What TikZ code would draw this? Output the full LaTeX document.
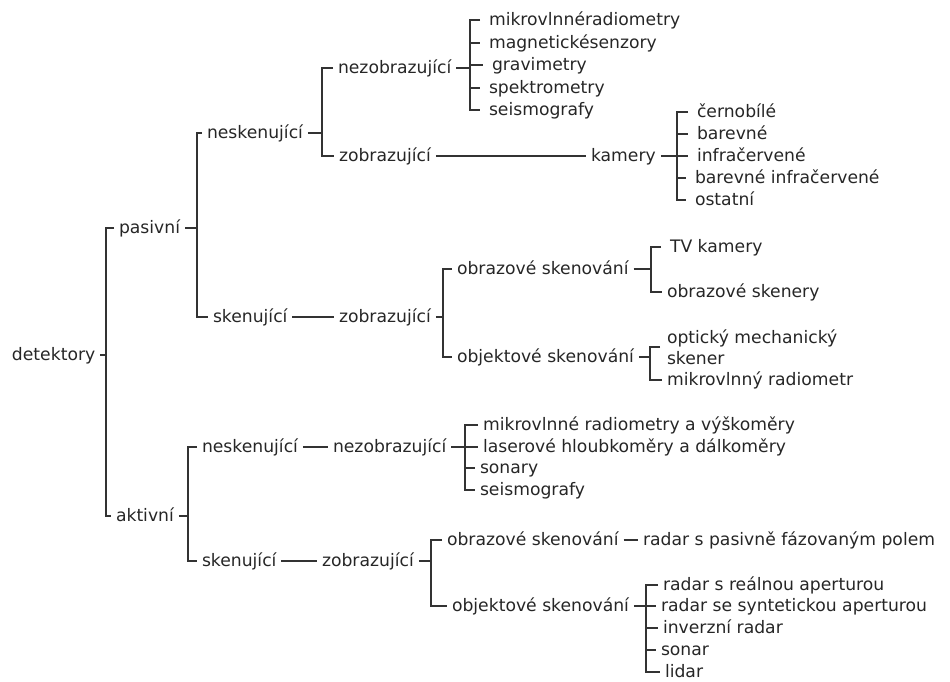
\documentclass[tikz,border=0pt]{standalone}
\usepackage{fontspec}
\setmainfont{DejaVu Sans}
\begin{document}
\begin{tikzpicture}[x=1pt,y=-1pt]
\tikzset{
  lbl/.style={anchor=west, inner xsep=0pt, inner ysep=0pt, outer xsep=5pt,
    text height=11pt, text depth=0pt, font=\fontsize{17.2}{21}\selectfont, text=black!85},
  itm/.style={lbl, outer xsep=9pt},
  lbltwo/.style={anchor=west, inner xsep=0pt, inner ysep=0pt, outer xsep=7pt,
    align=left, font=\fontsize{17.2}{20.5}\selectfont, text=black!85},
  conn/.style={draw=black!80, line width=1.3pt},
}
\useasboundingbox (0,0) rectangle (950,682);
% nodes
\node[lbl] (det) at (7,355) {detektory};
\node[lbl] (pas) at (114,228) {pasivní};
\node[lbl] (akt) at (111,516) {aktivní};
\node[lbl] (pn) at (202,133) {neskenující};
\node[lbl] (ps) at (208,317) {skenující};
\node[lbl] (pnn) at (333,68) {nezobrazující};
\node[lbl] (pnz) at (334,156) {zobrazující};
\node[itm] (i1) at (480,20) {mikrovlnnéradiometry};
\node[itm] (i2) at (480,43) {magnetickésenzory};
\node[itm] (i3) at (483,65) {gravimetry};
\node[itm] (i4) at (480,88) {spektrometry};
\node[itm] (i5) at (480,110) {seismografy};
\node[lbl] (kam) at (586,156) {kamery};
\node[itm] (k1) at (688,112) {černobílé};
\node[itm] (k2) at (688,134) {barevné};
\node[itm] (k3) at (688,156) {infračervené};
\node[itm] (k4) at (686,178) {barevné infračervené};
\node[itm] (k5) at (686,200) {ostatní};
\node[lbl] (psz) at (334,317) {zobrazující};
\node[lbl] (pso) at (452,269) {obrazové skenování};
\node[lbl] (psb) at (452,357) {objektové skenování};
\node[itm] (o1) at (661,247) {TV kamery};
\node[lbl] (o2) at (662,292) {obrazové skenery};
\node[lbltwo] (b1) at (660,347) {optický mechanický\\skener};
\node[lbl] (b3) at (662,380) {mikrovlnný radiometr};
\node[lbl] (an) at (197,447) {neskenující};
\node[lbl] (ann) at (328,447) {nezobrazující};
\node[lbl] (a1) at (478,425) {mikrovlnné radiometry a výškoměry};
\node[lbl] (a2) at (478,447) {laserové hloubkoměry a dálkoměry};
\node[lbl] (a3) at (475,468) {sonary};
\node[lbl] (a4) at (475,490) {seismografy};
\node[lbl] (as) at (197,561) {skenující};
\node[lbl] (asz) at (317,561) {zobrazující};
\node[lbl] (aso) at (442,540) {obrazové skenování};
\node[lbl] (aso1) at (638,540) {radar s pasivně fázovaným polem};
\node[lbl] (asb) at (447,606) {objektové skenování};
\node[lbl] (r1) at (658,585) {radar s reálnou aperturou};
\node[lbl] (r2) at (656,606) {radar se syntetickou aperturou};
\node[lbl] (r3) at (658,628) {inverzní radar};
\node[lbl] (r4) at (656,650) {sonar};
\node[lbl] (r5) at (660,672) {lidar};
% spines
\coordinate (s0) at (106,0);
\coordinate (s1) at (197,0);
\coordinate (s2) at (322,0);
\coordinate (s3) at (470,0);
\coordinate (s4) at (677,0);
\coordinate (s5) at (443,0);
\coordinate (s6) at (651,0);
\coordinate (s7) at (650,0);
\coordinate (s8) at (465,0);
\coordinate (s9) at (188,0);
\coordinate (s10) at (431,0);
\coordinate (s11) at (646,0);
% detektory
\draw[conn] (det.east) -- (det.east -| s0);
\draw[conn] (pas.west) -| (s0 |- akt.west) -- (akt.west);
% pasivni
\draw[conn] (pas.east) -- (pas.east -| s1);
\draw[conn] (pn.west) -| (s1 |- ps.west) -- (ps.west);
% pasivni neskenujici
\draw[conn] (pn.east) -- (pn.east -| s2);
\draw[conn] (pnn.west) -| (s2 |- pnz.west) -- (pnz.west);
% nezobrazujici items
\draw[conn] (pnn.east) -- (pnn.east -| s3);
\draw[conn] (i1.west) -| (s3 |- i5.west) -- (i5.west);
\draw[conn] (s3 |- i2.west) -- (i2.west);
\draw[conn] (s3 |- i3.west) -- (i3.west);
\draw[conn] (s3 |- i4.west) -- (i4.west);
% zobrazujici -- kamery
\draw[conn] (pnz.east) -- (kam.west);
\draw[conn] (kam.east) -- (kam.east -| s4);
\draw[conn] (k1.west) -| (s4 |- k5.west) -- (k5.west);
\draw[conn] (s4 |- k2.west) -- (k2.west);
\draw[conn] (s4 |- k3.west) -- (k3.west);
\draw[conn] (s4 |- k4.west) -- (k4.west);
% pasivni skenujici
\draw[conn] (ps.east) -- (psz.west);
\draw[conn] (psz.east) -- (psz.east -| s5);
\draw[conn] (pso.west) -| (s5 |- psb.west) -- (psb.west);
\draw[conn] (pso.east) -- (pso.east -| s6);
\draw[conn] (o1.west) -| (s6 |- o2.west) -- (o2.west);
\draw[conn] (psb.east) -- (psb.east -| s7);
\draw[conn] (b1.west) -| (s7 |- b3.west) -- (b3.west);
% aktivni
\draw[conn] (akt.east) -- (akt.east -| s9);
\draw[conn] (an.west) -| (s9 |- as.west) -- (as.west);
\draw[conn] (an.east) -- (ann.west);
\draw[conn] (ann.east) -- (ann.east -| s8);
\draw[conn] (a1.west) -| (s8 |- a4.west) -- (a4.west);
\draw[conn] (s8 |- a2.west) -- (a2.west);
\draw[conn] (s8 |- a3.west) -- (a3.west);
\draw[conn] (as.east) -- (asz.west);
\draw[conn] (asz.east) -- (asz.east -| s10);
\draw[conn] (aso.west) -| (s10 |- asb.west) -- (asb.west);
\draw[conn] (aso.east) -- (aso1.west);
\draw[conn] (asb.east) -- (asb.east -| s11);
\draw[conn] (r1.west) -| (s11 |- r5.west) -- (r5.west);
\draw[conn] (s11 |- r2.west) -- (r2.west);
\draw[conn] (s11 |- r3.west) -- (r3.west);
\draw[conn] (s11 |- r4.west) -- (r4.west);
\end{tikzpicture}
\end{document}
